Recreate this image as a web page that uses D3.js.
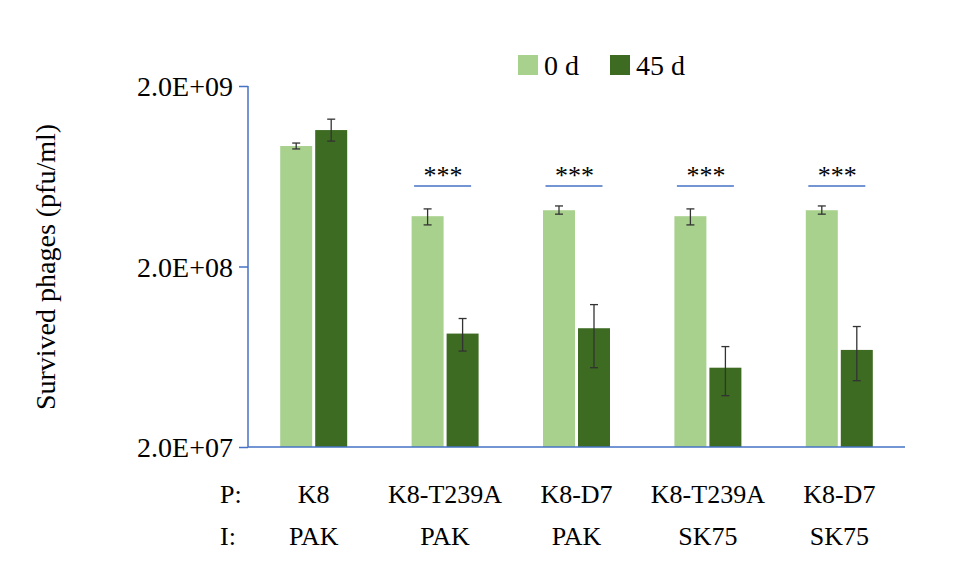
<!DOCTYPE html><html><head><script src="https://cdn.jsdelivr.net/npm/d3@7"></script>
<style>body{margin:0;background:#fff}</style></head><body>
<svg id="c" width="953" height="574" font-family="'Liberation Serif', 'Times New Roman', Times, serif"></svg>
<script>
const groupsP=["K8","K8-T239A","K8-D7","K8-T239A","K8-D7"];
const groupsI=["PAK","PAK","PAK","SK75","SK75"];
const series=["0 d","45 d"];
const vals0=[9.3e8,3.8e8,4.1e8,3.8e8,4.1e8];
const hi0=[9.66e8,4.17e8,4.33e8,4.17e8,4.33e8];
const lo0=[8.96e8,3.4e8,3.9e8,3.4e8,3.9e8];
const vals45=[1.14e9,8.5e7,9.1e7,5.5e7,6.9e7];
const hi45=[1.31e9,1.03e8,1.23e8,7.2e7,9.3e7];
const lo45=[9.9e8,6.8e7,5.5e7,3.85e7,4.66e7];
const sig=[false,true,true,true,true];
const yTicks=[2e7,2e8,2e9];
const yLabels=["2.0E+07","2.0E+08","2.0E+09"];
const colors=["#a9d18e","#3d6b22"];
const FF="'Liberation Serif', 'Times New Roman', Times, serif";

const svg=d3.select("#c");
const x=d3.scaleBand().domain(d3.range(5)).range([248,905]);
const y=d3.scaleLog().domain([2e7,2e9]).range([447,86]);
const bw=32,gap=3;
const data=[[vals0,hi0,lo0],[vals45,hi45,lo45]];
data.forEach((s,si)=>{
  const xo=i=>x(i)+x.bandwidth()/2+(si===0?-(bw+gap/2):gap/2);
  svg.append("g").selectAll("rect").data(s[0]).join("rect")
    .attr("x",(d,i)=>xo(i)).attr("width",bw).attr("y",d=>y(d)).attr("height",d=>447-y(d)).attr("fill",colors[si]);
  const g=svg.append("g").attr("stroke","#333").attr("stroke-width",1.3);
  s[0].forEach((d,i)=>{
    const cx=xo(i)+bw/2;
    g.append("line").attr("x1",cx).attr("x2",cx).attr("y1",y(s[1][i])).attr("y2",y(s[2][i]));
    [s[1][i],s[2][i]].forEach(v=>g.append("line").attr("x1",cx-4).attr("x2",cx+4).attr("y1",y(v)).attr("y2",y(v)));
  });
});
sig.forEach((f,i)=>{ if(!f) return;
  const cx=x(i)+x.bandwidth()/2;
  const top=186;
  svg.append("line").attr("x1",cx-31).attr("x2",cx+26).attr("y1",top).attr("y2",top).attr("stroke","#4472c4").attr("stroke-width",1.5);
  svg.append("text").attr("x",cx-2).attr("y",top-2).attr("text-anchor","middle").attr("font-size",26).text("***");
});
const ya=svg.append("g").attr("transform","translate(248,0)").call(d3.axisLeft(y).tickValues(yTicks).tickFormat((d,i)=>yLabels[i]).tickSize(9).tickPadding(6));
ya.attr("font-family",FF);
ya.selectAll("text").attr("font-size",28).attr("fill","#000").attr("dy","0.35em");
ya.selectAll("line,path").attr("stroke","#4472c4").attr("stroke-width",1.5);
ya.select("path").attr("d","M0,86V447");
svg.append("line").attr("x1",248).attr("x2",905).attr("y1",447).attr("y2",447).attr("stroke","#4472c4").attr("stroke-width",1.5);
svg.append("text").attr("transform","translate(55,267) rotate(-90)").attr("text-anchor","middle").attr("font-size",28).text("Survived phages (pfu/ml)");
svg.append("text").attr("x",220).attr("y",503).attr("font-size",26).text("P:");
svg.append("text").attr("x",220).attr("y",545).attr("font-size",26).text("I:");
groupsP.forEach((p,i)=>{
  const cx=x(i)+x.bandwidth()/2;
  svg.append("text").attr("x",cx).attr("y",503).attr("text-anchor","middle").attr("font-size",26).text(p);
  svg.append("text").attr("x",cx).attr("y",545).attr("text-anchor","middle").attr("font-size",26).text(groupsI[i]);
});
const lx=[518,610];
svg.selectAll(".lg").data(series).join("g").attr("class","lg").each(function(s,i){
  const g=d3.select(this);
  g.append("rect").attr("x",lx[i]).attr("y",55).attr("width",20).attr("height",20).attr("fill",colors[i]);
  g.append("text").attr("x",lx[i]+26).attr("y",75).attr("font-size",28).text(s);
});
</script></body></html>
